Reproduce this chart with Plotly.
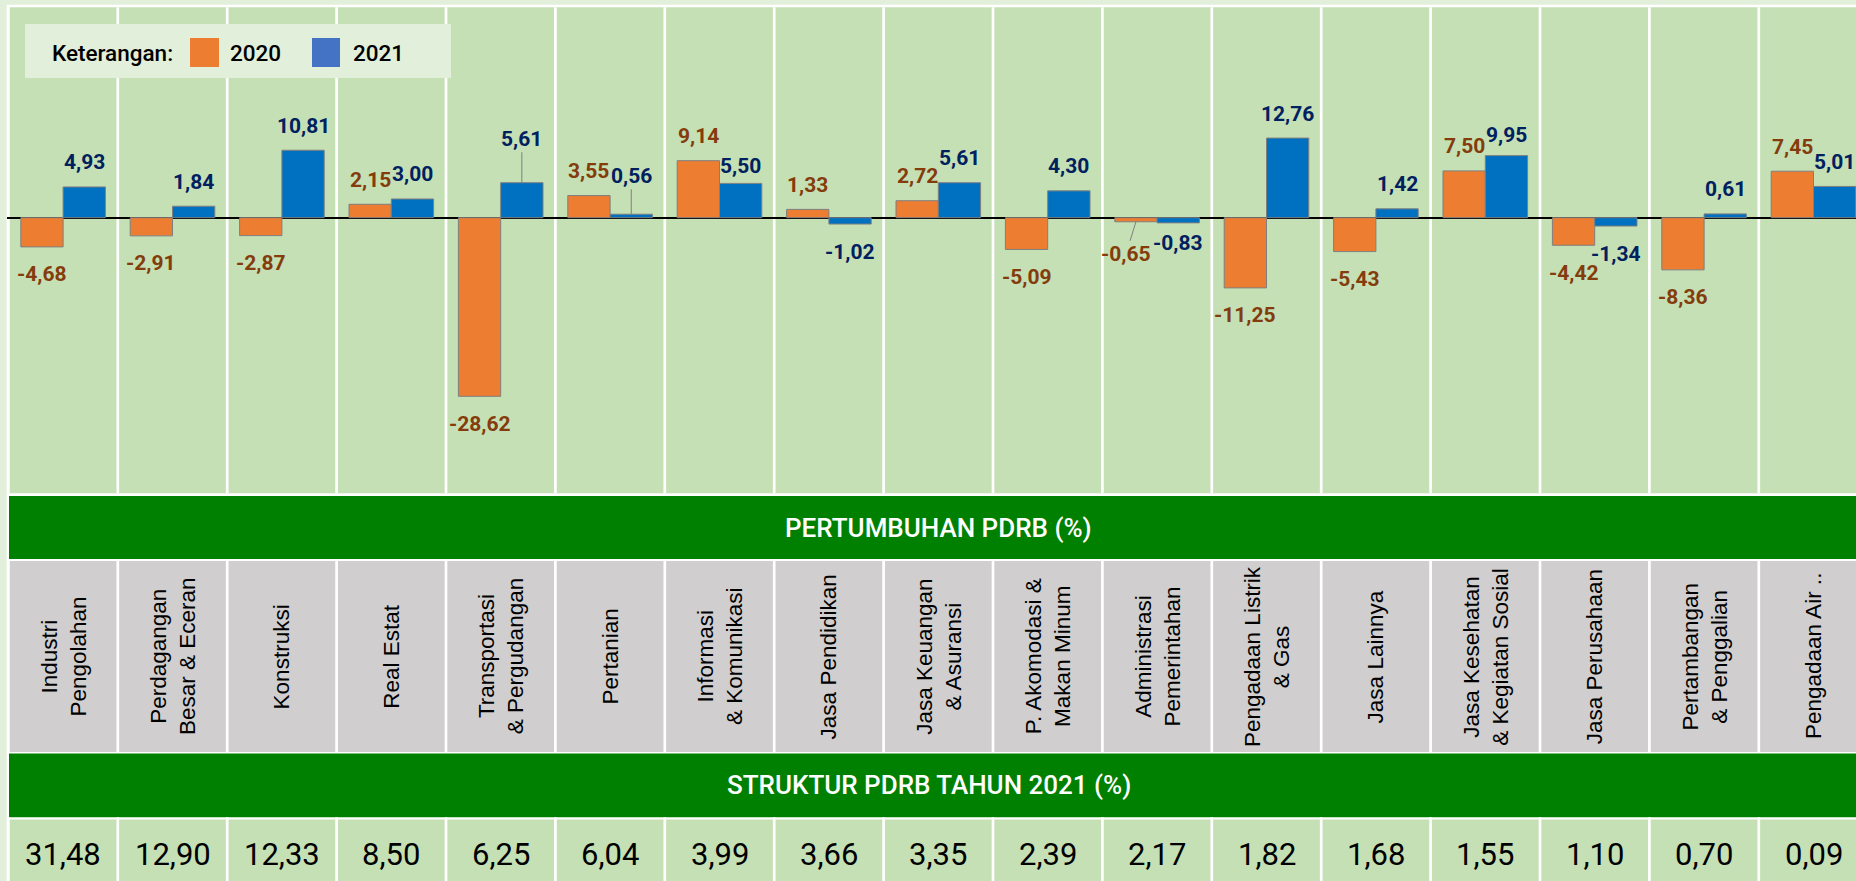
import plotly.graph_objects as go

W, H = 1856, 881

# ---- data -------------------------------------------------------------
sectors = [
    "Industri<br>Pengolahan", "Perdagangan<br>Besar & Eceran", "Konstruksi", "Real Estat",
    "Transportasi<br>& Pergudangan", "Pertanian", "Informasi<br>& Komunikasi", "Jasa Pendidikan",
    "Jasa Keuangan<br>& Asuransi", "P. Akomodasi &<br>Makan Minum", "Administrasi<br>Pemerintahan",
    "Pengadaan Listrik<br>& Gas", "Jasa Lainnya", "Jasa Kesehatan<br>& Kegiatan Sosial",
    "Jasa Perusahaan", "Pertambangan<br>& Penggalian", "Pengadaan Air ..",
]
growth_2020 = [-4.68, -2.91, -2.87, 2.15, -28.62, 3.55, 9.14, 1.33, 2.72, -5.09,
               -0.65, -11.25, -5.43, 7.50, -4.42, -8.36, 7.45]
growth_2021 = [4.93, 1.84, 10.81, 3.00, 5.61, 0.56, 5.50, -1.02, 5.61, 4.30,
               -0.83, 12.76, 1.42, 9.95, -1.34, 0.61, 5.01]
share_2021 = [31.48, 12.90, 12.33, 8.50, 6.25, 6.04, 3.99, 3.66, 3.35, 2.39,
              2.17, 1.82, 1.68, 1.55, 1.10, 0.70, 0.09]
years = ["2020", "2021"]

# ---- styling ----------------------------------------------------------
TIGHT = "Roboto, Liberation Sans, Arial, sans-serif"
SANS = "Liberation Sans, Arial, sans-serif"
BAR_COLORS = ["#ED7D31", "#0070C0"]
KEY_COLORS = ["#ED7D31", "#4472C4"]
LABEL_COLORS = ["#843C0C", "#002060"]
PANEL = "#C5E0B4"
OUTER = "#E2EFDA"
BAND = "#008000"
GREY = "#D0CECE"

COL0, COLW = 8.4, 109.4          # left edge and width of one sector column (px)
X_LEFT_PX = 7                    # where the plotting area begins
BAR_OFF = 21.15                  # half of one bar width (px)

# rows of the table (top, bottom) in px
ROW_PANEL = (7.3, 493.3)
ROW_BAND1 = (496, 559)
ROW_GREY = (561, 752)
ROW_BAND2 = (753.5, 817.3)
ROW_VALUE = (819.5, 881)


def px(x):
    return x / W


def py(y):
    return 1 - y / H


x_lo = -0.5 - (COL0 - X_LEFT_PX) / COLW
x_hi = x_lo + (W - X_LEFT_PX) / COLW
ZERO_PX, UNIT_PX = 217.7, 6.24
y_hi = (ZERO_PX - ROW_PANEL[0]) / UNIT_PX
y_lo = -(ROW_PANEL[1] - ZERO_PX) / UNIT_PX

fig = go.Figure()
for vals, name, col in zip([growth_2020, growth_2021], years, BAR_COLORS):
    fig.add_trace(go.Bar(
        x=sectors, y=vals, name=name,
        marker=dict(color=col, line=dict(color="#7F7F7F", width=1)),
        hoverinfo="skip", showlegend=False,
    ))

# ---- background cells -------------------------------------------------
shapes = [dict(type="rect", xref="paper", yref="paper", layer="below",
               x0=px(6.7), x1=1, y0=py(4.7), y1=0,
               fillcolor="white", line=dict(width=0))]
for (top, bot), colr in [(ROW_PANEL, PANEL), (ROW_BAND1, BAND), (ROW_GREY, GREY),
                         (ROW_BAND2, BAND), (ROW_VALUE, PANEL)]:
    shapes.append(dict(type="rect", xref="paper", yref="paper", layer="below",
                       x0=px(9), x1=1, y0=py(top), y1=py(bot),
                       fillcolor=colr, line=dict(width=0)))
for i in range(len(sectors) + 1):
    for top, bot in [ROW_PANEL, (ROW_BAND1[1], ROW_GREY[1] + 1), (ROW_BAND2[1], ROW_VALUE[1])]:
        shapes.append(dict(type="line", xref="x", yref="paper", layer="below",
                           x0=i - 0.5, x1=i - 0.5, y0=py(top), y1=py(bot),
                           line=dict(color="white", width=2.7)))

# key box with coloured squares
shapes.append(dict(type="rect", xref="paper", yref="paper", layer="above",
                   x0=px(25), x1=px(451), y0=py(24), y1=py(78),
                   fillcolor=OUTER, line=dict(width=0)))
for (x0, x1), colr in zip([(190, 219), (312, 340)], KEY_COLORS):
    shapes.append(dict(type="rect", xref="paper", yref="paper", layer="above",
                       x0=px(x0), x1=px(x1), y0=py(38), y1=py(67),
                       fillcolor=colr, line=dict(width=0)))

annotations = []

# ---- value labels on the bars ----------------------------------------
# (series, sector) -> pixel nudges for labels moved off their default spot
nudges = {
    (1, 4): dict(dy=44, leader=True),
    (1, 5): dict(dy=38.5, leader=True),
    (1, 6): dict(dy=17.4),
    (1, 13): dict(dy=20.7),
    (0, 10): dict(dx=-10, dy=-32.5, leader=True),
    (1, 10): dict(dy=-20.4),
}
for s, vals in enumerate([growth_2020, growth_2021]):
    off = -BAR_OFF if s == 0 else BAR_OFF
    for i, v in enumerate(vals):
        n = nudges.get((s, i), {})
        dy = n.get("dy", 24.5 if v >= 0 else -27.5)
        dx = n.get("dx", 0)
        txt = f"{v:.2f}".replace(".", ",")
        font = dict(family=TIGHT, size=21, color=LABEL_COLORS[s], weight="bold")
        if n.get("leader"):
            annotations.append(dict(
                x=sectors[i], y=v, xref="x", yref="y", xshift=off, text=txt, font=font,
                showarrow=True, arrowhead=0, arrowwidth=1, arrowcolor="#7F7F7F",
                standoff=0, ax=dx, ay=-dy,
            ))
        else:
            annotations.append(dict(
                x=sectors[i], y=v, xref="x", yref="y", xshift=off + dx, yshift=dy,
                text=txt, font=font, showarrow=False, xanchor="center", yanchor="middle",
            ))

# ---- table rows -------------------------------------------------------
grey_mid = (ROW_GREY[0] + ROW_GREY[1]) / 2
for i, name in enumerate(sectors):
    annotations.append(dict(
        x=sectors[i], y=py(grey_mid), xref="x", yref="paper", text=name, textangle=-90,
        font=dict(family=SANS, size=22.5, color="black"), showarrow=False,
        xanchor="center", yanchor="middle",
    ))
    annotations.append(dict(
        x=sectors[i], y=py(854), xref="x", yref="paper",
        text=f"{share_2021[i]:.2f}".replace(".", ","),
        font=dict(family=TIGHT, size=31, color="black"), showarrow=False,
        xanchor="center", yanchor="middle",
    ))

annotations.append(dict(x=px(938), y=py(527.5), xref="paper", yref="paper",
                        text="PERTUMBUHAN PDRB (%)", showarrow=False,
                        xanchor="center", yanchor="middle",
                        font=dict(family=TIGHT, size=26, color="white", weight=500)))
annotations.append(dict(x=px(928.6), y=py(785.4), xref="paper", yref="paper",
                        text="STRUKTUR PDRB TAHUN 2021 (%)", showarrow=False,
                        xanchor="center", yanchor="middle",
                        font=dict(family=TIGHT, size=26, color="white", weight=500)))

# key texts
for x0, txt in [(50, "Keterangan:"), (228, years[0]), (351, years[1])]:
    annotations.append(dict(x=px(x0), y=py(52.5), xref="paper", yref="paper", text=txt,
                            showarrow=False, xanchor="left", yanchor="middle",
                            font=dict(family=TIGHT, size=22.5, color="black", weight=500)))

fig.update_layout(
    width=W, height=H, autosize=False,
    margin=dict(l=0, r=0, t=0, b=0, pad=0),
    paper_bgcolor=OUTER, plot_bgcolor="rgba(0,0,0,0)",
    barmode="group", bargap=0.2267, bargroupgap=0,
    shapes=shapes, annotations=annotations,
    xaxis=dict(type="category", range=[x_lo, x_hi], domain=[px(X_LEFT_PX), 1],
               showticklabels=False, showgrid=False, zeroline=False, showline=False,
               ticks="", fixedrange=True),
    yaxis=dict(range=[y_lo, y_hi], domain=[py(ROW_PANEL[1]), py(ROW_PANEL[0])],
               showticklabels=False, showgrid=False, zeroline=True,
               zerolinecolor="black", zerolinewidth=1.5, showline=False, ticks="",
               fixedrange=True),
)

fig.write_html("out.html", config={"displayModeBar": False})
